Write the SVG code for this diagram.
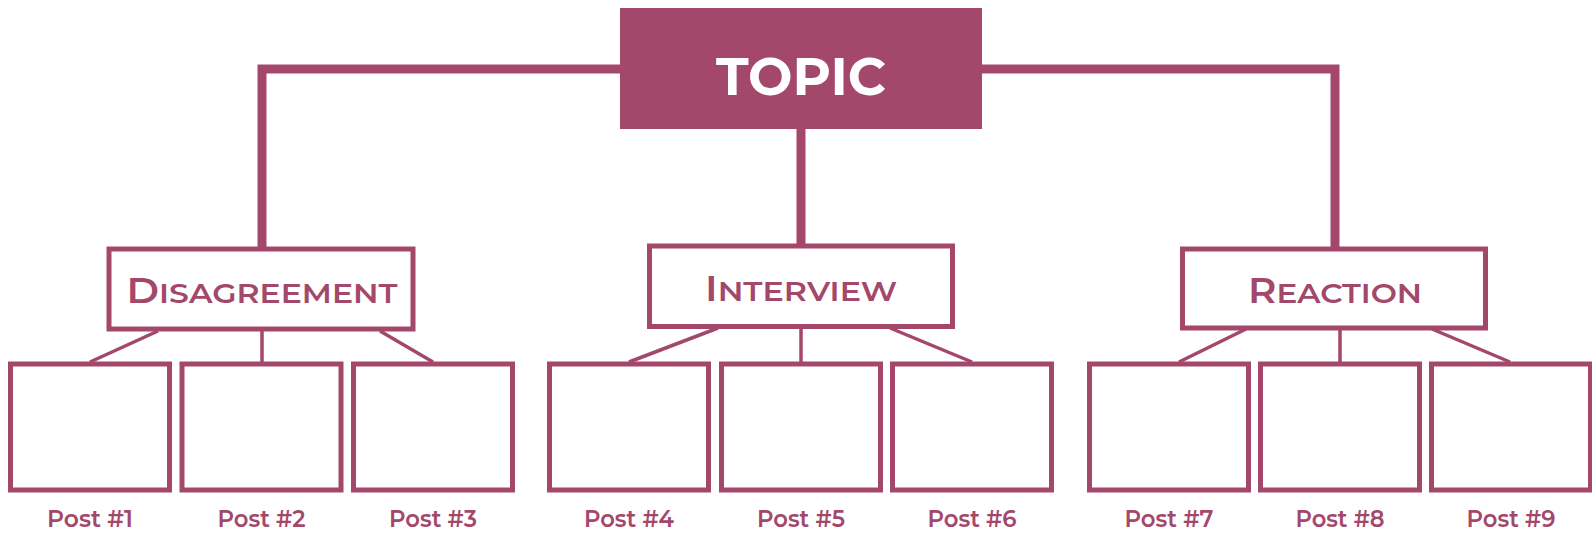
<svg xmlns="http://www.w3.org/2000/svg" width="1592" height="533" viewBox="0 0 1592 533">
<style>
.main{fill:none;stroke:#A3486A;stroke-width:9;stroke-linejoin:miter;stroke-linecap:butt}
.thin{fill:none;stroke:#A3486A;stroke-width:3.5}
.sub{fill:#fff;stroke:#A3486A;stroke-width:5}
.post{fill:#fff;stroke:#A3486A;stroke-width:5}
.head{font-family:Montserrat,"Open Sans","Noto Sans",sans-serif;font-weight:600;fill:#A3486A;text-anchor:middle}
.lbl{font-family:Montserrat,"Open Sans","Noto Sans",sans-serif;font-weight:600;font-size:23.5px;fill:#A3486A;text-anchor:middle}
</style>
<rect width="1592" height="533" fill="#fff"/>
<g id="connectors">
<path class="main" d="M620 69 H262 V247"/>
<path class="main" d="M982 69 H1335 V247"/>
<path class="main" d="M801 129 V244"/>
<path class="thin" d="M158 331 L90 362 M262 331 V362 M380 331 L433 362"/>
<path class="thin" d="M718 328 L629 362 M801 328 V362 M890 328 L972 362"/>
<path class="thin" d="M1246 329 L1179 362 M1340 329 V362 M1432 329 L1510 362"/>
</g>
<g id="topic">
<rect x="620" y="8" width="362" height="121" fill="#A3486A"/>
<text x="801" y="95" font-family="Montserrat,'Open Sans','Noto Sans',sans-serif" font-weight="700" font-size="52" fill="#fff" text-anchor="middle" textLength="170" lengthAdjust="spacingAndGlyphs">TOPIC</text>
</g>
<g id="disagreement">
<rect class="sub" x="109" y="249" width="304" height="80"/>
<text class="head" x="262" y="303" textLength="271" lengthAdjust="spacingAndGlyphs"><tspan font-size="35">D</tspan><tspan font-size="28">ISAGREEMENT</tspan></text>
</g>
<g id="interview">
<rect class="sub" x="649.5" y="246" width="303" height="80.5"/>
<text class="head" x="801" y="301" textLength="192" lengthAdjust="spacingAndGlyphs"><tspan font-size="35">I</tspan><tspan font-size="28">NTERVIEW</tspan></text>
</g>
<g id="reaction">
<rect class="sub" x="1182.5" y="249" width="303" height="79"/>
<text class="head" x="1335" y="303" textLength="174" lengthAdjust="spacingAndGlyphs"><tspan font-size="35">R</tspan><tspan font-size="28">EACTION</tspan></text>
</g>
<g id="post1"><rect class="post" x="10.5" y="364" width="159" height="126"/><text class="lbl" x="90" y="527" textLength="86" lengthAdjust="spacingAndGlyphs">Post #1</text></g>
<g id="post2"><rect class="post" x="182" y="364" width="159" height="126"/><text class="lbl" x="261.5" y="527" textLength="88" lengthAdjust="spacingAndGlyphs">Post #2</text></g>
<g id="post3"><rect class="post" x="353.5" y="364" width="159" height="126"/><text class="lbl" x="433" y="527" textLength="88" lengthAdjust="spacingAndGlyphs">Post #3</text></g>
<g id="post4"><rect class="post" x="549.5" y="364" width="159" height="126"/><text class="lbl" x="629" y="527" textLength="90" lengthAdjust="spacingAndGlyphs">Post #4</text></g>
<g id="post5"><rect class="post" x="721.5" y="364" width="159" height="126"/><text class="lbl" x="801" y="527" textLength="88" lengthAdjust="spacingAndGlyphs">Post #5</text></g>
<g id="post6"><rect class="post" x="892.5" y="364" width="159" height="126"/><text class="lbl" x="972" y="527" textLength="89" lengthAdjust="spacingAndGlyphs">Post #6</text></g>
<g id="post7"><rect class="post" x="1089.5" y="364" width="159" height="126"/><text class="lbl" x="1169" y="527" textLength="89" lengthAdjust="spacingAndGlyphs">Post #7</text></g>
<g id="post8"><rect class="post" x="1260.5" y="364" width="159" height="126"/><text class="lbl" x="1340" y="527" textLength="89" lengthAdjust="spacingAndGlyphs">Post #8</text></g>
<g id="post9"><rect class="post" x="1431.5" y="364" width="159" height="126"/><text class="lbl" x="1511" y="527" textLength="89" lengthAdjust="spacingAndGlyphs">Post #9</text></g>
</svg>
